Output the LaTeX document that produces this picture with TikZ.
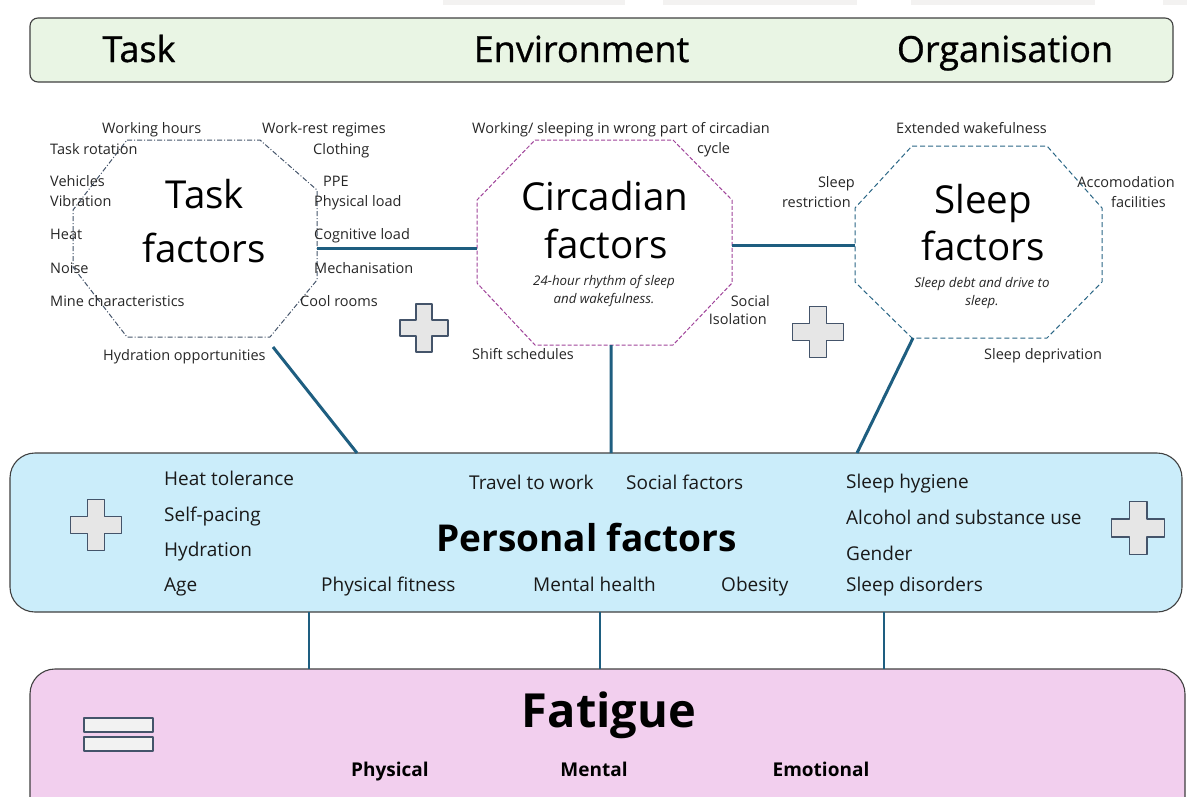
\documentclass[tikz,border=0pt]{standalone}
\usepackage{fontspec}
\setmainfont{Open Sans}
\newfontfamily\headfont[FakeBold=0.8]{Open Sans}
\definecolor{linkblue}{HTML}{1E5E80}
\definecolor{taskedge}{HTML}{44546A}
\definecolor{circedge}{HTML}{A0449A}
\definecolor{sleepedge}{HTML}{2A6685}
\definecolor{barfill}{HTML}{E9F5E4}
\definecolor{personfill}{HTML}{CBEDFA}
\definecolor{fatiguefill}{HTML}{F2CFEE}
\definecolor{plusfill}{HTML}{E6E6E6}
\definecolor{tabgray}{HTML}{F3F2F1}
\newcommand{\fsz}[2]{\fontsize{#1}{#2}\selectfont}
\begin{document}
\begin{tikzpicture}[x=1pt, y=-1pt, line join=round]
	\tikzset{lbl/.style={inner sep=0pt, anchor=base west, font=\fsz{14.5}{18}, text=black!85},
		plbl/.style={inner sep=0pt, anchor=base west, font=\fsz{19}{23}, text=black!90},
		head/.style={inner sep=0pt, anchor=base, font=\headfont\fsz{36}{40}},
		big/.style={inner sep=0pt, anchor=base, font=\fsz{38.5}{44}},
		note/.style={inner sep=0pt, align=center, font=\fsz{13.3}{18}\itshape, text=black!85},
		panel/.style={draw=black!75, line width=1.1pt, rounded corners=#1, outer sep=0pt, inner sep=0pt},
		link/.style={linkblue, line width=3pt},
		thinlink/.style={linkblue, line width=2.2pt},
		plussign/.pic={\draw[taskedge, fill=plusfill, line width=1.1pt] (-8,-24) -- (8,-24) -- (8,-8) -- (24,-8) -- (24,8) -- (8,8) -- (8,24) -- (-8,24) -- (-8,8) -- (-24,8) -- (-24,-8) -- (-8,-8) -- cycle;}}
	\useasboundingbox (0,0) rectangle (1187,796);
	\clip (0,0) rectangle (1187,796);
	% strip along the top edge
	\foreach \a/\b in {443/625, 663/857, 911/1095, 1163/1187} \fill[tabgray] (\a,0) rectangle (\b,5);
	% header bar
	\node[panel=8, fill=barfill, minimum width=1143, minimum height=64] (bar) at (601.5,50) {};
	\foreach \t/\x [count=\i] in {Task/139, Environment/581.5, Organisation/1005} \node[head] (head\i) at (\x,62) {\t};
	% the three octagons
	\draw[taskedge, line width=1pt, dash pattern=on 5pt off 2pt on 1pt off 2pt] (127,140) -- (260,140) -- (317,190) -- (317,280) -- (270,337) -- (127,337) -- (73,267) -- (73,210) -- cycle;
	\draw[circedge, line width=1pt, dash pattern=on 4pt off 2pt] (535,140) -- (673,140) -- (732,200) -- (732,283) -- (673,345) -- (535,345) -- (477,283) -- (477,200) -- cycle;
	\draw[sleepedge, line width=1pt, dash pattern=on 5pt off 3pt] (912,146) -- (1047,146) -- (1102,208) -- (1102,282) -- (1047,338) -- (912,338) -- (855,282) -- (855,208) -- cycle;
	\path (317,248) coordinate (taskE)
		(477,248) coordinate (circW)
		(732,245) coordinate (circE)
		(855,245) coordinate (sleepW)
		(273,347) coordinate (taskS)
		(611,345) coordinate (circS)
		(913,338) coordinate (sleepS)
		(357,0) coordinate (taskP)
		(857,0) coordinate (sleepP);
	\node[big] (task1) at (205,208) {Task};
	\node[big] (task2) at (204,262) {factors};
	\node[big] (circ1) at (605,210) {Circadian};
	\node[big] (circ2) at (606,258) {factors};
	\node[big] (sleep1) at (983,213) {Sleep};
	\node[big] (sleep2) at (983,260) {factors};
	\node[note] (circnote) at (604,291) {24-hour rhythm of sleep\\and wakefulness.};
	\node[note] (sleepnote) at (982,293) {Sleep debt and drive to\\sleep.};
	% labels round the octagons
	\foreach \t/\x/\y [count=\i] in {Working hours/102/133, Work-rest regimes/262/133, Task rotation/50/154, Clothing/313/154,
		Vehicles/50/186, PPE/323/186, Vibration/50/206, Physical load/314/206, Heat/50/239, Cognitive load/314/239,
		Noise/50/273, Mechanisation/314/273, Mine characteristics/50/306, Cool rooms/300/306, Hydration opportunities/103/360}
		\node[lbl] (tk\i) at (\x,\y) {\t};
	\node[lbl] (cc1) at (472,133) {Working/ sleeping in wrong part of circadian};
	\node[lbl] (cc2) at (697,153) {cycle};
	\node[lbl] (cc3) at (472,359) {Shift schedules};
	\node[lbl, anchor=base east] (cc4) at (770,306) {Social};
	\node[lbl, anchor=base east] (cc5) at (767,324) {Isolation};
	\node[lbl] (sl1) at (896,133) {Extended wakefulness};
	\node[lbl, anchor=base east] (sl2) at (855,187) {Sleep};
	\node[lbl, anchor=base east] (sl3) at (851,207) {restriction};
	\node[lbl, anchor=base east] (sl4) at (1175,187) {Accomodation};
	\node[lbl, anchor=base east] (sl5) at (1166,207) {facilities};
	\node[lbl] (sl6) at (984,359) {Sleep deprivation};
	% personal factors
	\node[panel=25, fill=personfill, minimum width=1172, minimum height=159] (personal) at (596,532.5) {};
	\node[inner sep=0pt, anchor=base, font=\fsz{37}{40}\bfseries] (pftitle) at (586.5,551) {Personal factors};
	\foreach \t/\x/\y [count=\i] in {Heat tolerance/164/485, Self-pacing/164/521, Hydration/164/556, Age/164/591,
		Physical fitness/321/591, Mental health/533/591, Obesity/721/591, Sleep disorders/846/591,
		Travel to work/469/489, Social factors/626/489, Sleep hygiene/846/488, Alcohol and substance use/846/524, Gender/846/560}
		\node[plbl] (pf\i) at (\x,\y) {\t};
	% fatigue
	\node[panel=25, fill=fatiguefill, minimum width=1155, minimum height=170] (fatigue) at (607.5,754) {};
	\node[inner sep=0pt, anchor=base, font=\fsz{47}{50}\bfseries] (fattitle) at (609,727) {Fatigue};
	\foreach \t/\x [count=\i] in {Physical/390, Mental/594, Emotional/821}
		\node[inner sep=0pt, anchor=base, font=\fsz{19}{23}\bfseries] (ft\i) at (\x,776) {\t};
	% connectors
	\draw[link] (taskE) -- (circW) (circE) -- (sleepW);
	\draw[link] (taskS) -- (taskP |- personal.north)
		(circS) -- (circS |- personal.north)
		(sleepS) -- (sleepP |- personal.north);
	\foreach \x [count=\i] in {309,600,884} {
		\coordinate (drop\i) at (\x,640);
		\draw[thinlink] (drop\i |- personal.south) -- (drop\i |- fatigue.north);
	}
	% plus and equals signs
	\foreach \x/\y/\s [count=\i] in {424/328/1, 818/332/1.08, 96/525/1.05, 1138/528/1.12}
		\pic[scale=\s] (plus\i) at (\x,\y) {plussign};
	\draw[taskedge, fill=black!5, line width=1.2pt] (84,718) rectangle (153,732) (84,737) rectangle (153,751);
\end{tikzpicture}
\end{document}
